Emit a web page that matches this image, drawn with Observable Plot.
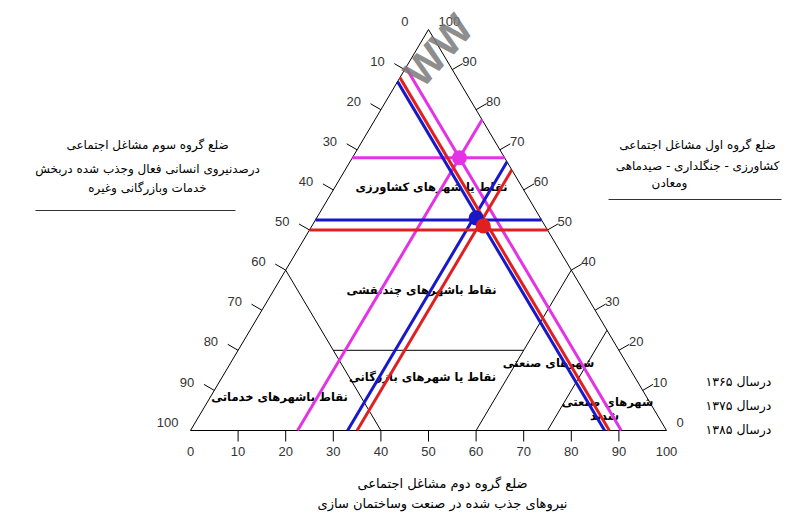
<!DOCTYPE html>
<html><head><meta charset="utf-8">
<script src="https://cdn.jsdelivr.net/npm/d3@7"></script>
<script src="https://cdn.jsdelivr.net/npm/@observablehq/plot@0.6"></script>
<style>body{margin:0;background:#fff}svg{display:block}</style>
</head><body><div id="chart"></div>
<script>
// ---- data ----
const years = ["۱۳۶۵", "۱۳۷۵", "۱۳۸۵"];
const yearColors = ["#e433e4", "#1818c8", "#e02020"];
const agriculture = [68, 52.5, 50];   // group 1 (apex / right axis), %
const industry = [22.5, 33, 35];      // group 2 (bottom axis), %
const services = [9.5, 13, 12];       // group 3 (left axis), %
const tickValues = [0, 10, 20, 30, 40, 50, 60, 70, 80, 90, 100];
const legendLabels = ["درسال ۱۳۶۵", "درسال ۱۳۷۵", "درسال ۱۳۸۵"];
// region boundaries, endpoints as [agriculture, industry]
const regionBoundaries = [[[40, 0], [0, 40]], [[20, 20], [20, 60]], [[0, 60], [40, 60]], [[0, 75], [25, 75]]];
const regionNames = ["نقاط یا شهرهای کشاورزی", "نقاط باشهرهای چندنقشی", "نقاط باشهرهای خدماتی", "نقاط یا شهرهای بازرگانی", "شهرهای صنعتی", "شهرهای صنعتی", "شدید"];
const leftTitle = ["ضلع گروه سوم مشاغل اجتماعی", "درصدنیروی انسانی فعال وجذب شده دربخش", "خدمات وبازرگانی وغیره"];
const rightTitle = ["ضلع گروه اول مشاغل اجتماعی", "کشاورزی - جنگلداری - صیدماهی", "ومعادن"];
const bottomTitle = ["ضلع گروه دوم مشاغل اجتماعی", "نیروهای جذب شده در صنعت وساختمان سازی"];

// ---- layout ----
const W = 798, H = 517, L = 190, R = 666, T = 29, B = 430;
const kx = 100 / (R - L), ky = 100 / (B - T);      // data units per pixel
const P = (a, b) => ({x: b + a / 2, y: a});          // ternary -> cartesian
const seg = (p, q, extra = {}) => ({x1: p.x, y1: p.y, x2: q.x, y2: q.y, ...extra});

const frame = [seg(P(0, 0), P(0, 100)), seg(P(0, 100), P(100, 0)), seg(P(100, 0), P(0, 0))];
const bounds = regionBoundaries.map(([p, q]) => seg(P(...p), P(...q)));

const lines = years.flatMap((yr, i) => {
  const a = agriculture[i], b = industry[i], c = services[i];
  return [
    seg(P(a, 0), P(a, 100 - a), {yr}),
    seg(P(0, b), P(100 - b, b), {yr}),
    seg(P(100 - c, 0), P(0, 100 - c), {yr})
  ];
});
const dots = years.map((yr, i) => {
  const d = (100 - agriculture[i] - industry[i] - services[i]) / 3;
  return {yr, ...P(agriculture[i] + d, industry[i] + d)};
});

const inner = tickValues.filter(v => v > 0 && v < 100);
const tl = 12, c30 = Math.cos(Math.PI / 6), s30 = 0.5;
const bottomTicks = inner.map(v => seg({x: v, y: 0}, {x: v, y: -11 * ky}));
const leftTicks = inner.map(v => { const e = P(100 - v, 0); return seg(e, {x: e.x - c30 * tl * kx, y: e.y + s30 * tl * ky}); });
const rightTicks = inner.map(v => { const e = P(v, 100 - v); return seg(e, {x: e.x + c30 * tl * kx, y: e.y + s30 * tl * ky}); });

const bottomLabels = tickValues.map(v => ({t: String(v), x: v, y: -21 * ky}));
const leftLabels = tickValues.map(v => { const e = P(100 - v, 0); return {t: String(v), x: e.x - (v === 100 ? 12 : 20) * kx, y: e.y + 8 * ky}; });
const rightLabels = tickValues.map(v => { const e = P(v, 100 - v); return {t: String(v), x: e.x + 10 * kx, y: e.y + 8 * ky}; });

const px = (X, Y) => ({x: (X - L) * kx, y: (B - Y) * ky});
const regionPos = [px(431, 187), px(421, 290), px(279, 397), px(422, 377), px(548, 363), px(607, 402), px(604, 416)];
const regionText = regionNames.map((t, i) => ({t, ...regionPos[i]}));
const sideText = [
  ...leftTitle.map((t, i) => ({t, ...px(147, [145, 169, 188][i])})),
  ...rightTitle.map((t, i) => ({t, ...px(i === 2 ? 669 : 697, [145, 166, 183][i])}))
];
const bottomText = bottomTitle.map((t, i) => ({t, ...px(442, [483, 503][i])}));
const underlines = [seg(px(35, 210), px(235, 210)), seg(px(608, 199), px(781, 199))];
const legendText = legendLabels.map((t, i) => ({t, ...px(738, [381, 405, 429][i])}));
const mark = {t: "WW", ...px(412, 80)};

const pf = "Liberation Sans, Arial, sans-serif", ff = "DejaVu Sans, sans-serif";
const chart = Plot.plot({
  width: W, height: H,
  marginLeft: L, marginRight: W - R, marginTop: T, marginBottom: H - B,
  x: {domain: [0, 100], axis: null},
  y: {domain: [0, 100], axis: null},
  color: {domain: years, range: yearColors},
  style: {background: "#fff"},
  marks: [
    Plot.link(frame, {x1: "x1", y1: "y1", x2: "x2", y2: "y2", stroke: "#000", strokeWidth: 1}),
    Plot.link(bounds, {x1: "x1", y1: "y1", x2: "x2", y2: "y2", stroke: "#000", strokeWidth: 1}),
    Plot.link([...bottomTicks, ...leftTicks, ...rightTicks], {x1: "x1", y1: "y1", x2: "x2", y2: "y2", stroke: "#000", strokeWidth: 1}),
    Plot.text(bottomLabels, {x: "x", y: "y", text: "t", fontFamily: pf, fontSize: 13, fill: "#333"}),
    Plot.text(leftLabels, {x: "x", y: "y", text: "t", fontFamily: pf, fontSize: 13, fill: "#333", textAnchor: "end"}),
    Plot.text(rightLabels, {x: "x", y: "y", text: "t", fontFamily: pf, fontSize: 13, fill: "#333", textAnchor: "start"}),
    Plot.text(regionText, {x: "x", y: "y", text: "t", fontFamily: ff, fontSize: 11.5, fontWeight: "bold", fill: "#000"}),
    Plot.link(lines, {x1: "x1", y1: "y1", x2: "x2", y2: "y2", stroke: "yr", strokeWidth: 3}),
    Plot.dot(dots, {x: "x", y: "y", fill: "yr", r: 7.5}),
    Plot.text(sideText, {x: "x", y: "y", text: "t", fontFamily: ff, fontSize: 12, fill: "#000"}),
    Plot.text(bottomText, {x: "x", y: "y", text: "t", fontFamily: ff, fontSize: 13, fill: "#000"}),
    Plot.link(underlines, {x1: "x1", y1: "y1", x2: "x2", y2: "y2", stroke: "#333", strokeWidth: 1}),
    Plot.text(legendText, {x: "x", y: "y", text: "t", fontFamily: ff, fontSize: 12.5, fill: "#000"}),
    Plot.text([mark], {x: "x", y: "y", text: "t", fontFamily: pf, fontSize: 42, fontWeight: "bold", fill: "#7a7a7a", fillOpacity: 0.85, rotate: -48, textAnchor: "start"})
  ]
});
document.getElementById("chart").append(chart);
</script></body></html>
